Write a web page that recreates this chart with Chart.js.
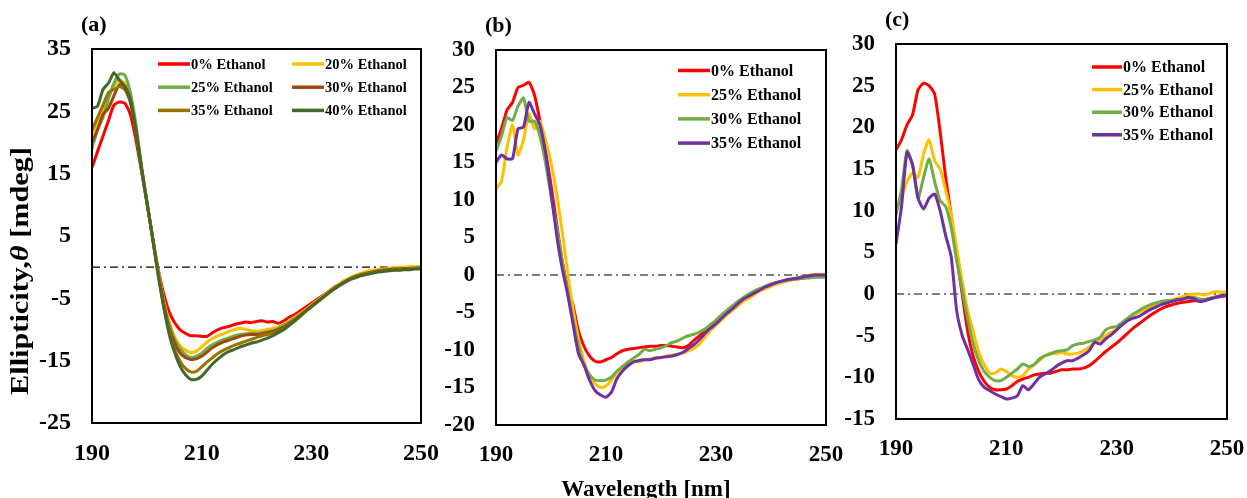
<!DOCTYPE html>
<html>
<head>
<meta charset="utf-8">
<script src="https://cdn.jsdelivr.net/npm/chart.js@4.4.0/dist/chart.umd.min.js"></script>
<style>
  html, body { margin: 0; padding: 0; background: #fff; }
  body { width: 1247px; height: 498px; position: relative; overflow: hidden; }
  .panel { position: absolute; top: 0; height: 498px; }
</style>
</head>
<body>
<div class="panel" style="left:0px;width:450px"><canvas id="chartA"></canvas></div>
<div class="panel" style="left:432px;width:413px"><canvas id="chartB"></canvas></div>
<div class="panel" style="left:838px;width:409px"><canvas id="chartC"></canvas></div>
<script>
// CD spectra, ellipticity vs wavelength for three samples at several ethanol contents
const wavelength = [190, 191, 192, 193, 194, 195, 196, 197, 198, 199,
  200, 201, 202, 203, 204, 205, 206, 207, 208, 209,
  210, 211, 212, 213, 214, 215, 216, 217, 218, 219,
  220, 221, 222, 223, 224, 225, 226, 227, 228, 229,
  230, 231, 232, 233, 234, 235, 236, 237, 238, 239,
  240, 241, 242, 243, 244, 245, 246, 247, 248, 249, 250]

const xTicks = [190, 210, 230, 250]
const yTicksA = [-25, -15, -5, 5, 15, 25, 35]
const yTicksB = [-20, -15, -10, -5, 0, 5, 10, 15, 20, 25, 30]
const yTicksC = [-15, -10, -5, 0, 5, 10, 15, 20, 25, 30]

const labelsA = ["0% Ethanol", "20% Ethanol", "25% Ethanol", "30% Ethanol", "35% Ethanol", "40% Ethanol"]
const labelsBC = ["0% Ethanol", "25% Ethanol", "30% Ethanol", "35% Ethanol"]

// panel (a)
const a0 = [16, 18.5, 21, 23.5, 26, 26.5, 26.3, 24.5, 20.5, 15.5,
  10.5, 5, 0, -4, -7, -8.8, -10, -10.6, -11, -11,
  -11.1, -11.1, -10.5, -10, -9.7, -9.5, -9.2, -9, -8.8, -8.9,
  -8.7, -8.6, -8.8, -8.7, -9, -8.6, -8, -7.6, -7, -6.4,
  -5.8, -5.2, -4.6, -4, -3.3, -2.8, -2.2, -1.8, -1.4, -1.1,
  -0.9, -0.7, -0.5, -0.4, -0.3, -0.3, -0.2, -0.2, -0.1, -0.1, 0]
const a20 = [21, 23, 25, 27.5, 29, 30, 29.5, 27, 22, 16,
  10.5, 5, 0, -5, -8.5, -11, -12.5, -13.3, -13.7, -13.5,
  -12.8, -12, -11.4, -11, -10.7, -10.3, -10, -9.8, -10, -10.2,
  -10.3, -10.2, -10, -9.8, -9.6, -9.2, -8.6, -8, -7.4, -6.8,
  -6.1, -5.4, -4.7, -4, -3.4, -2.8, -2.2, -1.7, -1.3, -1,
  -0.7, -0.5, -0.4, -0.3, -0.2, -0.1, 0, 0, 0.1, 0.1, 0.1]
const a25 = [19, 22, 24, 27, 29.5, 31, 30.8, 28, 23, 16.5,
  10.5, 5, -0.5, -5.5, -9, -11.5, -13, -14, -14.5, -14.3,
  -13.8, -13, -12.4, -12, -11.6, -11.3, -11, -10.8, -10.7, -10.6,
  -10.6, -10.5, -10.4, -10.2, -9.8, -9.3, -8.8, -8.2, -7.6, -7,
  -6.3, -5.6, -4.9, -4.2, -3.5, -2.9, -2.4, -1.9, -1.5, -1.2,
  -1, -0.8, -0.6, -0.5, -0.4, -0.3, -0.3, -0.2, -0.2, -0.1, -0.1]
const a30 = [20, 22, 24.5, 25.5, 27.5, 29.3, 29, 27, 22, 16,
  10.5, 5, -0.5, -5.5, -9.5, -12, -13.7, -14.5, -14.8, -14.7,
  -14.3, -13.6, -12.9, -12.4, -12, -11.7, -11.4, -11.1, -10.9, -10.8,
  -10.8, -10.7, -10.5, -10.3, -10, -9.6, -9, -8.4, -7.7, -7,
  -6.3, -5.6, -4.9, -4.2, -3.6, -3, -2.4, -1.9, -1.5, -1.2,
  -1, -0.8, -0.6, -0.5, -0.4, -0.3, -0.3, -0.2, -0.2, -0.2, -0.1]
const a35 = [22, 24, 26, 28, 28.5, 29, 28.5, 26.5, 22, 16,
  10.5, 5, -0.5, -6, -10, -13, -15, -16.2, -16.8, -16.7,
  -16, -15.2, -14.5, -13.8, -13.3, -12.9, -12.5, -12.2, -11.9, -11.6,
  -11.3, -11, -10.8, -10.6, -10.3, -9.9, -9.3, -8.6, -7.9, -7.1,
  -6.4, -5.7, -5, -4.3, -3.6, -3, -2.5, -2, -1.6, -1.3,
  -1.1, -0.9, -0.7, -0.6, -0.5, -0.4, -0.4, -0.3, -0.3, -0.2, -0.2]
const a40 = [25.5, 25.8, 28.5, 29.5, 31.2, 30, 29, 26.5, 22, 16,
  10.5, 5, -1, -6, -10.5, -13.5, -15.8, -17.2, -18, -18,
  -17.5, -16.5, -15.5, -14.7, -14, -13.5, -13.2, -12.8, -12.5, -12.2,
  -12, -11.7, -11.4, -11, -10.5, -10, -9.3, -8.6, -7.8, -7,
  -6.3, -5.6, -4.9, -4.2, -3.6, -3, -2.5, -2, -1.7, -1.4,
  -1.2, -1, -0.8, -0.7, -0.6, -0.5, -0.5, -0.4, -0.4, -0.3, -0.3]

// panel (b)
const b0 = [17.5, 19.5, 22, 23, 25, 25.3, 25.7, 24, 20.5, 16.5,
  12, 7, 2, -1.5, -4, -7.5, -9.5, -10.8, -11.5, -11.6,
  -11.3, -11, -10.5, -10.1, -9.9, -9.8, -9.7, -9.6, -9.5, -9.5,
  -9.4, -9.4, -9.5, -9.6, -9.7, -9.4, -8.7, -8.1, -7.5, -7,
  -6.5, -5.8, -5.1, -4.5, -4, -3.4, -2.9, -2.4, -2, -1.6,
  -1.3, -1.1, -0.9, -0.7, -0.6, -0.5, -0.4, -0.3, -0.2, -0.1, 0]
const b25 = [11.5, 12.5, 17, 20, 16, 18, 21.5, 19.5, 20.5, 18,
  15, 11, 6, 0.5, -4.5, -8.5, -11.5, -13.5, -14.5, -15,
  -14.8, -14, -13, -12.3, -11.8, -11.5, -11.6, -11.3, -11.2, -11,
  -11, -10.8, -10.7, -10.6, -10.4, -10.1, -9.8, -9.2, -8.3, -7.4,
  -6.7, -6, -5.3, -4.7, -4.1, -3.5, -3.1, -2.6, -2.1, -1.8,
  -1.5, -1.2, -1, -0.8, -0.5, -0.3, -0.2, 0, 0.1, 0.1, 0.1]
const b30 = [16.5, 18.5, 21, 20.6, 22.5, 23.6, 20.5, 20.5, 18.5, 15,
  10.5, 6.5, 2, -2, -6, -9.5, -12, -13.3, -14, -14.1,
  -14, -13.6, -12.8, -12.2, -11.6, -11.1, -10.6, -9.9, -10.1, -9.9,
  -9.7, -9.4, -9, -8.8, -8.4, -8.1, -7.9, -7.6, -7.2, -6.6,
  -6, -5.3, -4.7, -4.1, -3.5, -3, -2.5, -2.1, -1.8, -1.5,
  -1.2, -1, -0.8, -0.7, -0.6, -0.5, -0.4, -0.4, -0.3, -0.3, -0.3]
const b35 = [15, 16, 15.5, 15.5, 19.5, 19.7, 23, 21.5, 20, 16.3,
  11, 5.5, 1, -2.5, -6.5, -10.5, -12, -14, -15.4, -16,
  -16.3, -15.6, -13.8, -12.8, -12.1, -11.6, -11.4, -11.3, -11.3, -11.1,
  -11, -10.9, -10.8, -10.6, -10.3, -9.8, -9.3, -8.6, -7.8, -7.1,
  -6.5, -5.8, -5.1, -4.5, -3.8, -3.2, -2.8, -2.4, -2, -1.6,
  -1.3, -1, -0.8, -0.6, -0.5, -0.4, -0.2, -0.1, 0, 0, 0]

// panel (c)
const c0 = [17.3, 18.5, 20.3, 21.5, 24.5, 25.3, 25, 24, 19.5, 14,
  9.5, 4.5, 0, -4.5, -7.5, -9.3, -10.5, -11.2, -11.5, -11.5,
  -11.4, -11, -10.5, -10.2, -10, -9.7, -9.6, -9.5, -9.5, -9.3,
  -9.1, -9.1, -9, -9, -8.9, -8.6, -8.1, -7.5, -6.9, -6.4,
  -5.9, -5.3, -4.7, -4.1, -3.6, -3.1, -2.6, -2.2, -1.8, -1.5,
  -1.3, -1.1, -1, -0.9, -0.8, -0.8, -0.7, -0.5, -0.4, -0.3, -0.2]
const c25 = [10, 11.5, 13.5, 14.5, 14, 16.8, 18.5, 16, 15, 12.5,
  9.5, 5.5, 1.5, -2, -4.5, -7, -8.5, -9.5, -9.5, -9,
  -9.3, -9.8, -10, -9.8, -9, -8.5, -8, -7.4, -7.1, -7.2,
  -7, -7.2, -7.2, -7.1, -6.8, -6.4, -5.9, -5.5, -5, -4.6,
  -4.2, -3.6, -3, -2.6, -2.2, -1.9, -1.6, -1.3, -1, -0.8,
  -0.7, -0.5, -0.3, -0.1, 0, 0, -0.1, 0.1, 0.3, 0.2, 0.2]
const c30 = [9.5, 12.5, 17.2, 15.5, 11.5, 14, 16.2, 13.5, 11.2, 10.5,
  8, 4, 0.5, -3, -6, -8, -9.3, -10, -10.4, -10.4,
  -10, -9.5, -9, -8.4, -8.7, -8.5, -7.8, -7.4, -7.2, -6.9,
  -6.8, -6.7, -6.2, -6, -5.9, -5.7, -5.5, -5.2, -4.3, -4,
  -3.9, -3.4, -2.9, -2.4, -2, -1.6, -1.3, -1.1, -0.9, -0.8,
  -0.8, -0.7, -0.6, -0.5, -0.4, -0.6, -0.7, -0.5, -0.3, -0.2, -0.1]
const c35 = [6, 10.5, 17, 15.5, 11.5, 10.2, 11.5, 12, 10, 7,
  4.5, -2, -5, -6.7, -8.5, -10.3, -11.2, -11.6, -12, -12.3,
  -12.6, -12.5, -12.2, -11, -11.5, -10.8, -10, -9.6, -9.2, -8.7,
  -8.3, -8, -8, -7.7, -7.3, -6.8, -5.8, -6, -5.4, -4.9,
  -4.3, -3.7, -3.2, -2.9, -2.7, -2.3, -1.9, -1.6, -1.3, -1.1,
  -0.9, -0.7, -0.6, -0.4, -0.6, -0.9, -0.8, -0.6, -0.4, -0.2, -0.2]

const colours = {
  red: "#ff0000", gold: "#ffc000", green: "#70ad47", brown: "#9e480e",
  olive: "#997300", darkGreen: "#43682b", purple: "#7030a0"
}
const serif = "'Liberation Serif', 'Times New Roman', serif"

// Frame, panel letter, in-plot legend and free axis titles
const panelDecor = {
  id: "panelDecor",
  afterDatasetsDraw(chart, args, opts) {
    const { ctx, chartArea: area } = chart
    ctx.save()
    ctx.strokeStyle = "#000"
    ctx.lineWidth = 2
    ctx.strokeRect(area.left, area.top, area.right - area.left, area.bottom - area.top)

    ctx.fillStyle = "#000"
    ctx.textAlign = "left"
    ctx.textBaseline = "middle"
    ctx.font = `bold 22px ${serif}`
    ctx.fillText(opts.letter, area.left - 11, area.top - 24)

    const lg = opts.legend
    ctx.font = `bold ${lg.size}px ${serif}`
    chart.data.datasets.filter(d => !d.baseline).forEach((d, i) => {
      const col = i % lg.cols, row = Math.floor(i / lg.cols)
      const x = area.left + lg.x + col * lg.colGap
      const y = area.top + lg.y + row * lg.rowGap
      ctx.strokeStyle = d.borderColor
      ctx.lineWidth = 3.5
      ctx.beginPath()
      ctx.moveTo(x, y)
      ctx.lineTo(x + lg.lineLen, y)
      ctx.stroke()
      ctx.fillText(d.label, x + lg.lineLen + 1, y + 1)
    })

    if (opts.xTitle) {
      const t = opts.xTitle
      ctx.font = `bold ${t.size}px ${serif}`
      ctx.textAlign = "center"
      ctx.textBaseline = "alphabetic"
      ctx.fillText(t.text, (area.left + area.right) / 2 + t.dx, t.baseline)
    }

    if (opts.yTitle) {
      const t = opts.yTitle
      ctx.translate(t.x, t.y)
      ctx.rotate(-Math.PI / 2)
      let total = 0
      t.parts.forEach(p => {
        ctx.font = `${p.style} ${t.size}px ${serif}`
        total += ctx.measureText(p.text).width
      })
      ctx.scale(t.length / total, 1)
      ctx.textAlign = "left"
      ctx.textBaseline = "middle"
      let x = -total / 2
      t.parts.forEach(p => {
        ctx.font = `${p.style} ${t.size}px ${serif}`
        ctx.fillText(p.text, x, 0)
        x += ctx.measureText(p.text).width
      })
    }
    ctx.restore()
  }
}

function panelConfig(labels, series, palette, yMin, yMax, yTicks, geom, decor) {
  const datasets = series.map((values, i) => ({
    label: labels[i],
    data: wavelength.map((w, k) => ({ x: w, y: values[k] })),
    borderColor: palette[i],
    borderWidth: 3,
    pointRadius: 0,
    tension: 0.2,
    order: -i
  }))
  // dash-dot zero line underneath the spectra
  datasets.push({
    baseline: true,
    data: [{ x: 190, y: 0 }, { x: 250, y: 0 }],
    borderColor: "#000",
    borderWidth: 1.2,
    borderDash: [8, 4, 2, 4],
    pointRadius: 0,
    order: 100
  })

  const tickFont = { family: serif, weight: "bold", size: geom.tickSize }
  return {
    type: "line",
    data: { datasets },
    options: {
      responsive: true,
      maintainAspectRatio: false,
      animation: false,
      layout: { padding: { left: 0, top: geom.top, right: geom.right, bottom: 0 } },
      scales: {
        x: {
          type: "linear", min: 190, max: 250,
          grid: { display: false, drawTicks: false },
          border: { display: false },
          ticks: { color: "#000", font: tickFont, padding: 16, maxRotation: 0 },
          afterBuildTicks: scale => { scale.ticks = xTicks.map(v => ({ value: v })) },
          afterFit: scale => {
            scale.height = geom.xAxisH
            // the end labels may hang past the frame; layout padding already leaves room
            scale.paddingLeft = 0
            scale.paddingRight = 0
          }
        },
        y: {
          type: "linear", min: yMin, max: yMax,
          grid: { display: false, drawTicks: false },
          border: { display: false },
          ticks: { color: "#000", font: tickFont, padding: 21 },
          afterBuildTicks: scale => { scale.ticks = yTicks.map(v => ({ value: v })) },
          afterFit: scale => {
            scale.width = geom.yAxisW
            scale.paddingTop = 0
            scale.paddingBottom = 0
          }
        }
      },
      plugins: {
        legend: { display: false },
        tooltip: { enabled: false },
        panelDecor: decor
      }
    },
    plugins: [panelDecor]
  }
}

new Chart(document.getElementById("chartA"), panelConfig(
  labelsA, [a0, a20, a25, a30, a35, a40],
  [colours.red, colours.gold, colours.green, colours.brown, colours.olive, colours.darkGreen],
  -25, 35, yTicksA,
  { top: 49, right: 29, yAxisW: 92, xAxisH: 75, tickSize: 24 },
  {
    letter: "(a)",
    legend: { x: 66, y: 15, cols: 2, colGap: 134, rowGap: 23.2, lineLen: 32, size: 14.5 },
    yTitle: {
      x: 22, y: 271, size: 25, length: 248,
      parts: [{ text: "Ellipticity,", style: "bold" }, { text: "θ", style: "italic bold" }, { text: " [mdeg]", style: "bold" }]
    }
  }
))

new Chart(document.getElementById("chartB"), panelConfig(
  labelsBC, [b0, b25, b30, b35],
  [colours.red, colours.gold, colours.green, colours.purple],
  -20, 30, yTicksB,
  { top: 50, right: 19, yAxisW: 64, xAxisH: 73, tickSize: 23 },
  {
    letter: "(b)",
    legend: { x: 182, y: 20.5, cols: 1, colGap: 0, rowGap: 24.2, lineLen: 32, size: 16 },
    xTitle: { text: "Wavelength [nm]", size: 23, dx: -15, baseline: 496 }
  }
))

new Chart(document.getElementById("chartC"), panelConfig(
  labelsBC, [c0, c25, c30, c35],
  [colours.red, colours.gold, colours.green, colours.purple],
  -15, 30, yTicksC,
  { top: 44, right: 20, yAxisW: 58, xAxisH: 79, tickSize: 23 },
  {
    letter: "(c)",
    legend: { x: 196, y: 23, cols: 1, colGap: 0, rowGap: 22.6, lineLen: 30, size: 16 }
  }
))
</script>
</body>
</html>
